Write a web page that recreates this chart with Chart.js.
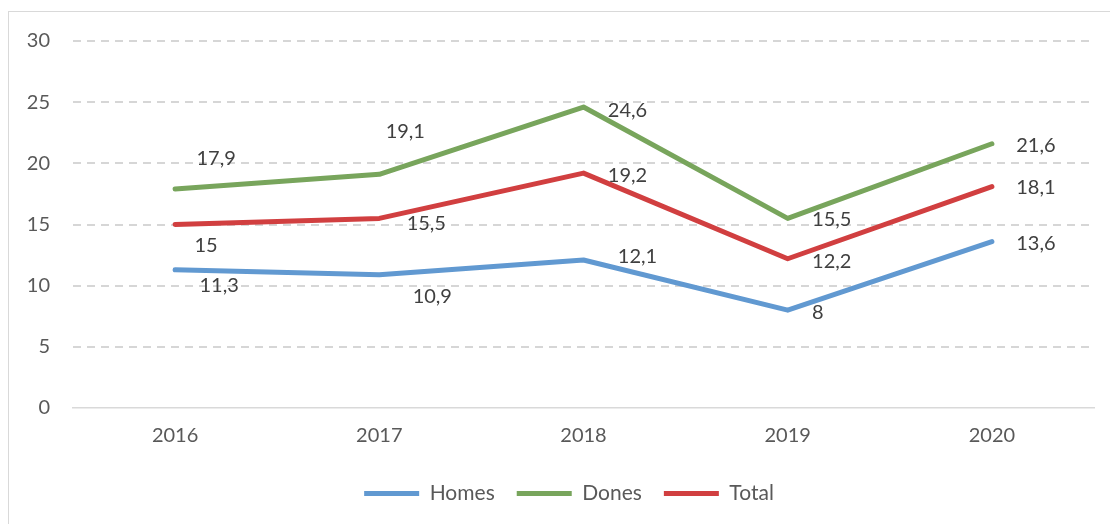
<!DOCTYPE html>
<html>
<head>
<meta charset="utf-8">
<script src="https://cdn.jsdelivr.net/npm/chart.js@4/dist/chart.umd.min.js"></script>
<style>
  html, body { margin: 0; padding: 0; background: #fff; }
  #wrap { position: relative; width: 1110px; height: 524px; }
  #frame { position: absolute; left: 8px; top: 11px; width: 1110px; height: 520px; border: 1px solid #d9d9d9; box-sizing: border-box; pointer-events: none; }
</style>
</head>
<body>
<div id="wrap">
  <canvas id="chart" width="1110" height="524"></canvas>
  <div id="frame"></div>
</div>
<script>
const years = ["2016", "2017", "2018", "2019", "2020"];
const homes = [11.3, 10.9, 12.1, 8, 13.6];
const dones = [17.9, 19.1, 24.6, 15.5, 21.6];
const total = [15, 15.5, 19.2, 12.2, 18.1];
const yTicks = [0, 5, 10, 15, 20, 25, 30];

// where each value label sits relative to its point (pixels)
const labelOffsets = [
  [[44, 16], [53, 22], [54, -3], [30, 2], [44, 2]],
  [[41, -30], [26, -43], [44, 3], [44, 1], [44, 2]],
  [[31, 21], [47, 5], [44, 2], [44, 3], [44, 1]]
];

const fontFamily = "Lato, 'Open Sans', sans-serif";

const valueLabels = {
  id: "valueLabels",
  afterDatasetsDraw(chart) {
    const ctx = chart.ctx;
    ctx.save();
    ctx.font = "20px " + fontFamily;
    ctx.fillStyle = "#404040";
    ctx.textAlign = "center";
    ctx.textBaseline = "middle";
    chart.data.datasets.forEach((ds, i) => {
      chart.getDatasetMeta(i).data.forEach((pt, j) => {
        const off = labelOffsets[i][j];
        ctx.fillText(String(ds.data[j]).replace(".", ","), pt.x + off[0], pt.y + off[1]);
      });
    });
    ctx.restore();
  }
};

// legend sits a bit right of the canvas centre
const legendShift = {
  id: "legendShift",
  afterLayout(chart) {
    chart.legend.left += 18;
    chart.legend.right += 18;
  }
};

const lineStyle = (color) => ({
  borderColor: color,
  backgroundColor: color,
  borderWidth: 5,
  borderCapStyle: "round",
  borderJoinStyle: "round",
  pointRadius: 0,
  pointHoverRadius: 0,
  tension: 0
});

new Chart(document.getElementById("chart"), {
  type: "line",
  data: {
    labels: years,
    datasets: [
      { label: "Homes", data: homes, ...lineStyle("#6199d1") },
      { label: "Dones", data: dones, ...lineStyle("#78a55c") },
      { label: "Total", data: total, ...lineStyle("#d13f40") }
    ]
  },
  options: {
    responsive: false,
    animation: false,
    layout: { padding: { left: 8, right: 16, top: 41, bottom: 10 } },
    plugins: {
      tooltip: { enabled: false },
      legend: {
        position: "bottom",
        labels: {
          usePointStyle: true,
          pointStyle: "line",
          pointStyleWidth: 55,
          padding: 22,
          color: "#595959",
          font: { family: fontFamily, size: 21 }
        }
      }
    },
    scales: {
      x: {
        offset: true,
        grid: { display: false, drawTicks: false },
        border: { display: true, color: "#d9d9d9", width: 1.5 },
        ticks: { color: "#595959", padding: 16, font: { family: fontFamily, size: 20 } },
        afterFit: (scale) => { scale.height = 53; }
      },
      y: {
        min: 0,
        max: 30,
        afterBuildTicks: (scale) => { scale.ticks = yTicks.map(v => ({ value: v })); },
        grid: {
          color: (c) => c.tick.value === 0 ? "transparent" : "#d6d6d6",
          lineWidth: 2,
          drawTicks: false
        },
        border: { display: false, dash: [8, 6] },
        ticks: { color: "#595959", padding: 23, font: { family: fontFamily, size: 20 } },
        afterFit: (scale) => { scale.width = 65; }
      }
    }
  },
  plugins: [valueLabels, legendShift]
});
</script>
</body>
</html>
